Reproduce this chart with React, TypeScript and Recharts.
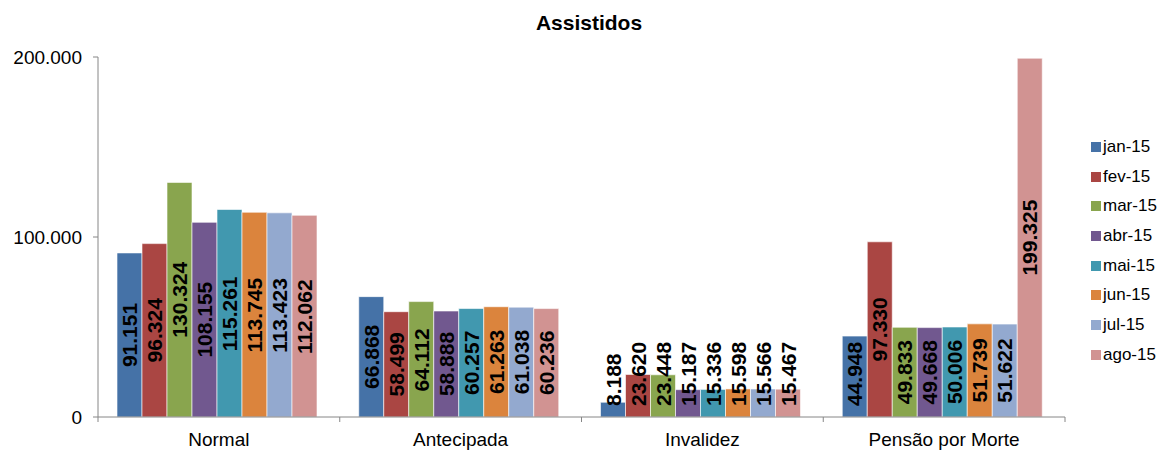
import React from 'react';
import { BarChart, Bar, XAxis, YAxis, Legend, LabelList } from 'recharts';

const categories = ['Normal', 'Antecipada', 'Invalidez', 'Pensão por Morte'];
const months = ['jan-15', 'fev-15', 'mar-15', 'abr-15', 'mai-15', 'jun-15', 'jul-15', 'ago-15'];
const colors = ['#4572A7', '#AA4643', '#89A54E', '#71588F', '#4198AF', '#DB843D', '#93A9CF', '#D19392'];

const jan15 = [91151, 66868, 8188, 44948];
const fev15 = [96324, 58499, 23620, 97330];
const mar15 = [130324, 64112, 23448, 49833];
const abr15 = [108155, 58888, 15187, 49668];
const mai15 = [115261, 60257, 15336, 50006];
const jun15 = [113745, 61263, 15598, 51739];
const jul15 = [113423, 61038, 15566, 51622];
const ago15 = [112062, 60236, 15467, 199325];

const yTicks = [0, 100000, 200000];

const series = [jan15, fev15, mar15, abr15, mai15, jun15, jul15, ago15];

const data = categories.map((name, i) => {
  const row: Record<string, string | number> = { name };
  months.forEach((m, j) => {
    row[m] = series[j][i];
  });
  return row;
});

const FONT = '"Liberation Sans", Arial, sans-serif';
const LABEL_SIZE = 21;

const fmt = (v: any) => String(v).replace(/\B(?=(\d{3})+(?!\d))/g, '.');

// rough bold Arial text length, used to keep labels off the axis
const textLen = (s: string) =>
  s.split('').reduce((acc, c) => acc + (c === '.' ? 0.278 : 0.556), 0) * LABEL_SIZE;

const BarLabel = (props: any) => {
  const { x, y, width, height, value } = props;
  const text = fmt(value);
  const len = textLen(text);
  const cx = x + width / 2;
  const bottom = y + height;
  // centred in the bar, but never closer than ~11px to the baseline
  const start = Math.min(y + height / 2 + len / 2, bottom - 11);
  return (
    <text
      x={cx}
      y={start}
      transform={`rotate(-90, ${cx}, ${start})`}
      textAnchor="start"
      dominantBaseline="central"
      fill="#000"
      fontSize={LABEL_SIZE}
      fontWeight="bold"
      fontFamily={FONT}
    >
      {text}
    </text>
  );
};

const CategoryTick = (props: any) => {
  const { x, y, payload, index } = props;
  const half = payload && payload.offset ? payload.offset : 121;
  const axisY = y - 16;
  return (
    <g>
      <line x1={x - half} y1={axisY} x2={x - half} y2={axisY + 5} stroke="#868686" />
      {index === categories.length - 1 && (
        <line x1={x + half} y1={axisY} x2={x + half} y2={axisY + 5} stroke="#868686" />
      )}
      <text x={x} y={y} dy="0.71em" textAnchor="middle" fontSize={19} fill="#000" fontFamily={FONT}>
        {payload.value}
      </text>
    </g>
  );
};

const LegendContent = (props: any) => {
  const items = [...(props.payload || [])].sort(
    (a: any, b: any) => months.indexOf(a.value) - months.indexOf(b.value)
  );
  return (
    <div style={{ fontFamily: FONT, fontSize: 17, color: '#000' }}>
      {items.map((p: any) => (
        <div key={p.value} style={{ height: 29.7, display: 'flex', alignItems: 'center' }}>
          <span style={{ width: 10, height: 10, background: p.color, display: 'inline-block', marginRight: 2 }} />
          <span>{p.value}</span>
        </div>
      ))}
    </div>
  );
};

export default function App() {
  return (
    <div style={{ position: 'absolute', left: 0, top: 0, width: 1163, height: 450, background: '#fff' }}>
      <div
        style={{
          position: 'absolute',
          left: 0,
          width: 1178,
          top: 12,
          textAlign: 'center',
          fontFamily: FONT,
          fontWeight: 'bold',
          fontSize: 21,
          lineHeight: '21px',
          color: '#000',
        }}
      >
        Assistidos
      </div>
      <BarChart
        width={1163}
        height={450}
        data={data}
        margin={{ top: 57, right: 20, bottom: 0, left: 0 }}
        barCategoryGap={19}
        barGap={0}
      >
        <XAxis
          dataKey="name"
          height={33}
          stroke="#868686"
          tickLine={false}
          tickSize={5}
          tickMargin={11}
          tick={<CategoryTick />}
          interval={0}
        />
        <YAxis
          width={98}
          domain={[0, 200000]}
          ticks={yTicks}
          interval={0}
          stroke="#868686"
          tickSize={5}
          tickMargin={11}
          tickFormatter={fmt}
          tick={{ fill: '#000', fontSize: 19, fontFamily: FONT }}
        />
        <Legend
          layout="vertical"
          align="right"
          verticalAlign="top"
          content={<LegendContent />}
          wrapperStyle={{ left: 1091, top: 132, width: 78 }}
        />
        {months.map((m, j) => (
          <Bar key={m} dataKey={m} fill={colors[j]} stroke="#ffffff" strokeOpacity={0.6} strokeWidth={1} isAnimationActive={false}>
            <LabelList dataKey={m} content={<BarLabel />} />
          </Bar>
        ))}
      </BarChart>
    </div>
  );
}
